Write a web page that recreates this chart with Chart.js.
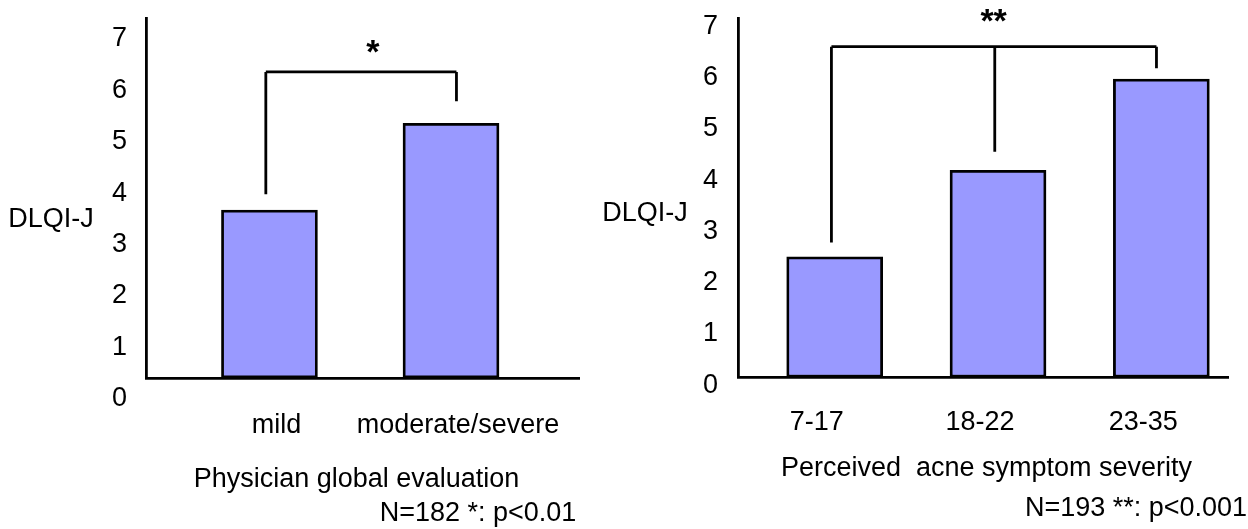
<!DOCTYPE html>
<html>
<head>
<meta charset="utf-8">
<script src="https://cdn.jsdelivr.net/npm/chart.js@4.4.0/dist/chart.umd.min.js"></script>
<style>
  html, body { margin: 0; padding: 0; background: #fff; overflow: hidden; }
  canvas { position: absolute; top: 0; }
  #pga { left: 0; }
  #pas { left: 600px; }
</style>
</head>
<body>
<canvas id="pga" width="600" height="529"></canvas>
<canvas id="pas" width="648" height="529"></canvas>
<script>
const yMin = 0;
const yMax = 7;

// left panel - physician global evaluation
const pgaLabels = ["mild", "moderate/severe"];
const pgaValues = [3.27, 4.96];
const pgaBracketX = [0.98, 2.03];
const pgaBracketFrom = [3.58, 5.39];
const pgaBracketTop = 5.96;

// right panel - perceived acne symptom severity
const pasLabels = ["7-17", "18-22", "23-35"];
const pasValues = [2.35, 4.04, 5.82];
const pasBracketX = [0.98, 1.98, 2.97];
const pasBracketFrom = [2.63, 4.40, 6.03];
const pasBracketTop = 6.45;

const FONT = "'Liberation Sans', Arial, sans-serif";
Chart.defaults.font.family = FONT;
Chart.defaults.font.size = 27;
Chart.defaults.color = "#000";

// significance bracket + free texts
const notes = {
  id: "notes",
  afterDraw(chart, args, o) {
    const { ctx, scales: { x, y } } = chart;
    ctx.save();
    ctx.strokeStyle = "#000";
    ctx.lineWidth = 2.8;
    ctx.beginPath();
    const top = y.getPixelForValue(o.top);
    o.legs.forEach((v, i) => {
      const px = x.getPixelForValue(v);
      ctx.moveTo(px, y.getPixelForValue(o.from[i]));
      ctx.lineTo(px, top);
    });
    ctx.moveTo(x.getPixelForValue(o.legs[0]), top);
    ctx.lineTo(x.getPixelForValue(o.legs[o.legs.length - 1]), top);
    ctx.stroke();

    ctx.fillStyle = "#000";
    ctx.textAlign = "center";
    ctx.textBaseline = "alphabetic";
    ctx.font = "bold 34px " + FONT;
    ctx.fillText(o.star, x.getPixelForValue(o.starAt[0]), y.getPixelForValue(o.starAt[1]));

    ctx.font = "27px " + FONT;
    o.texts.forEach((t) => ctx.fillText(t[0], t[1], t[2]));
    ctx.restore();
  }
};

function makeChart(id, labels, values, cfg) {
  return new Chart(document.getElementById(id), {
    type: "bar",
    data: {
      datasets: [{
        data: values.map((v, i) => ({ x: i + 1, y: v })),
        backgroundColor: "#9999ff",
        borderColor: "#000",
        borderWidth: 2.8,
        borderSkipped: false,
        barThickness: 96
      }]
    },
    options: {
      responsive: false,
      animation: false,
      events: [],
      layout: { padding: { top: 18.5, right: cfg.padRight, left: 0, bottom: 0 } },
      scales: {
        x: {
          type: "linear",
          min: cfg.xMin,
          max: cfg.xMax,
          offset: false,
          grid: { display: false, drawTicks: false },
          border: { color: "#000", width: 2.8 },
          afterBuildTicks: (s) => { s.ticks = labels.map((_, i) => ({ value: i + 1 })); },
          afterFit: (s) => { s.height = cfg.xHeight; s.paddingLeft = 0; s.paddingRight = 0; },
          ticks: {
            autoSkip: false,
            maxRotation: 0,
            padding: cfg.xPad,
            labelOffset: cfg.xLabelOffset,
            callback: (v) => labels[v - 1]
          }
        },
        y: {
          min: yMin,
          max: yMax,
          grid: { display: false, drawTicks: false },
          border: { color: "#000", width: 2.8 },
          afterFit: (s) => { s.width = cfg.yWidth; s.paddingTop = 0; s.paddingBottom = 0; },
          ticks: { stepSize: 1, padding: cfg.yPad, labelOffset: cfg.yLabelOffset }
        }
      },
      plugins: {
        legend: { display: false },
        tooltip: { enabled: false },
        notes: cfg.notes
      }
    },
    plugins: [notes]
  });
}

makeChart("pga", pgaLabels, pgaValues, {
  xMin: 0.32, xMax: 2.705, padRight: 21, xHeight: 151, yWidth: 146,
  xPad: 31, xLabelOffset: 7, yPad: 19, yLabelOffset: 20.5,
  notes: {
    legs: pgaBracketX, from: pgaBracketFrom, top: pgaBracketTop,
    star: "*", starAt: [1.57, 6.13],
    texts: [
      ["DLQI-J", 51, 226.7],
      ["Physician global evaluation", 356.5, 486.7],
      ["N=182 *: p<0.01", 478, 521]
    ]
  }
});

makeChart("pas", pasLabels, pasValues, {
  xMin: 0.408, xMax: 3.408, padRight: 20, xHeight: 151.7, yWidth: 138,
  xPad: 29, xLabelOffset: -18, yPad: 20, yLabelOffset: 8,
  notes: {
    legs: pasBracketX, from: pasBracketFrom, top: pasBracketTop,
    star: "**", starAt: [1.973, 6.74],
    texts: [
      ["DLQI-J", 45, 220.7],
      ["Perceived  acne symptom severity", 386.5, 476],
      ["N=193 **: p<0.001", 536, 516]
    ]
  }
});
</script>
</body>
</html>
